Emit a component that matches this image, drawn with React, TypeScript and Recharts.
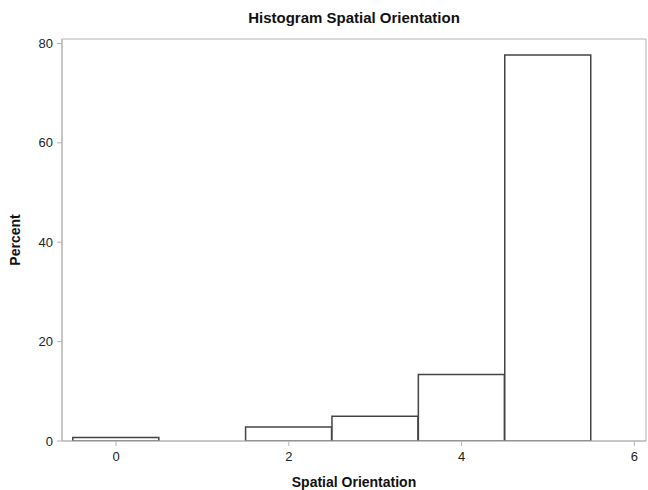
import React from "react";
import { BarChart, Bar, XAxis, YAxis, ReferenceArea } from "recharts";

const scores = [0, 1, 2, 3, 4, 5];
const percents = [0.7, 0, 2.8, 5.0, 13.4, 77.7];
const xTicks = [0, 2, 4, 6];
const yTicks = [0, 20, 40, 60, 80];
const xDomain = [-0.625, 6.135];
const yDomain = [0, 80.9];

const data = scores.map((score, i) => ({ score, percent: percents[i] }));

const font = "'Liberation Sans', Arial, sans-serif";
const axisGray = "#b4b4b4";
const tickStyle = { fontSize: 13, fill: "#222", fontFamily: font };

export default function App() {
  return (
    <div style={{ position: "absolute", left: 0, top: 0, width: 648, height: 490, background: "#fff" }}>
      <div
        style={{
          position: "absolute",
          top: 9,
          left: 62,
          width: 584,
          textAlign: "center",
          fontFamily: font,
          fontWeight: "bold",
          fontSize: 15,
          color: "#111",
        }}
      >
        Histogram Spatial Orientation
      </div>
      <BarChart
        width={648}
        height={490}
        data={data}
        barCategoryGap={0}
        margin={{ top: 39, right: 2, bottom: 0, left: 0 }}
      >
        <XAxis
          dataKey="score"
          type="number"
          domain={xDomain}
          ticks={xTicks}
          allowDataOverflow
          height={49}
          stroke={axisGray}
          tickSize={5}
          tickMargin={6}
          tick={tickStyle}
          label={{
            value: "Spatial Orientation",
            position: "insideBottom",
            offset: 3,
            style: { fontSize: 14, fontWeight: "bold", fill: "#111", fontFamily: font },
          }}
        />
        <YAxis
          domain={yDomain}
          ticks={yTicks}
          allowDataOverflow
          width={62}
          stroke={axisGray}
          tickSize={5}
          tickMargin={4}
          tick={tickStyle}
          label={{
            value: "Percent",
            angle: -90,
            position: "insideLeft",
            offset: 15,
            style: { fontSize: 14, fontWeight: "bold", fill: "#111", fontFamily: font, textAnchor: "middle" },
          }}
        />
        <ReferenceArea
          x1={xDomain[0]}
          x2={xDomain[1]}
          y1={yDomain[0]}
          y2={yDomain[1]}
          fill="none"
          stroke={axisGray}
          strokeWidth={1}
          ifOverflow="visible"
        />
        <Bar dataKey="percent" fill="#fff" stroke="#444" strokeWidth={1.5} isAnimationActive={false} />
      </BarChart>
    </div>
  );
}
